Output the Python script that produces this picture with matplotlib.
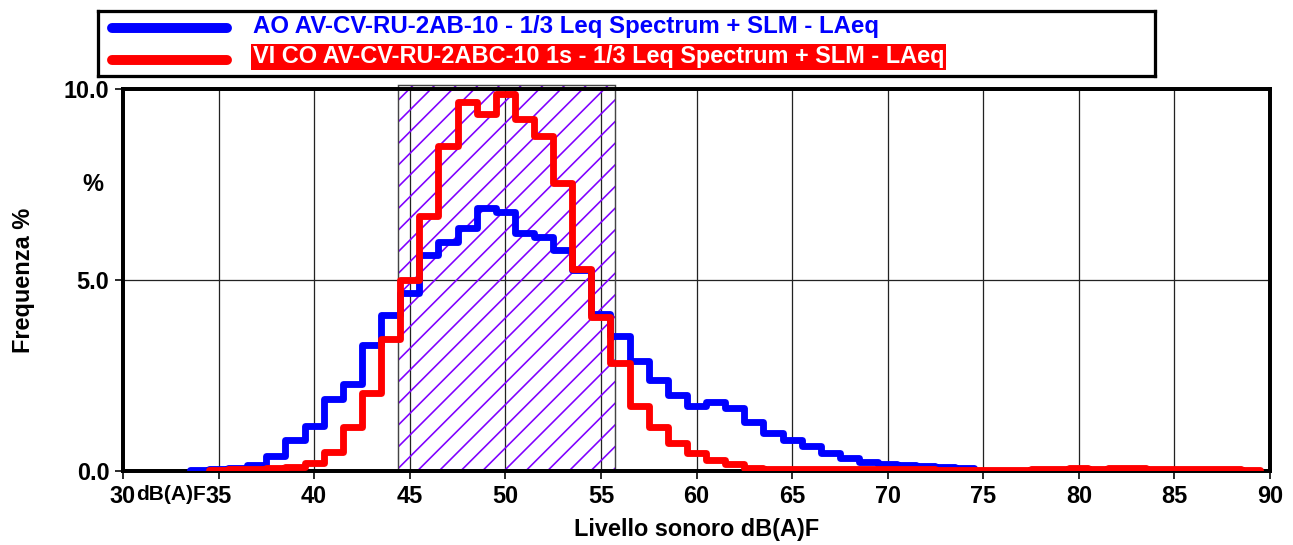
import matplotlib
matplotlib.use('Agg')
import matplotlib.pyplot as plt
import numpy as np
from matplotlib.patches import Rectangle

plt.rcParams['font.family'] = ['Liberation Sans', 'DejaVu Sans']
plt.rcParams['font.weight'] = 'bold'
plt.rcParams['hatch.linewidth'] = 0.9

# livelli (dB) - classi da 1 dB centrate sui valori interi
blue_start = 34
blue_vals = [0.02, 0.04, 0.09, 0.15, 0.38, 0.80, 1.18, 1.88, 2.28, 3.29,
             4.08, 4.66, 5.65, 6.00, 6.35, 6.89, 6.79, 6.24, 6.13, 5.78,
             5.26, 4.12, 3.54, 2.87, 2.37, 1.99, 1.69, 1.80, 1.64, 1.29,
             0.99, 0.81, 0.66, 0.48, 0.33, 0.23, 0.18, 0.16, 0.13, 0.11,
             0.09]
red_start = 35
red_vals = [0.03, 0.05, 0.06, 0.07, 0.11, 0.22, 0.51, 1.14, 2.04, 3.46,
            5.01, 6.68, 8.51, 9.65, 9.34, 9.87, 9.21, 8.76, 7.53, 5.30,
            4.03, 2.83, 1.69, 1.16, 0.72, 0.48, 0.29, 0.18, 0.09, 0.06,
            0.05, 0.05, 0.04, 0.04, 0.04, 0.05, 0.05, 0.04, 0.03, 0.02,
            0.02, 0.02, 0.03, 0.05, 0.06, 0.07, 0.06, 0.07, 0.07, 0.05,
            0.06, 0.05, 0.04, 0.04, 0.03]
band = (44.38, 55.72)  # intervallo evidenziato
band_top = 10.1

names = ['AO AV-CV-RU-2AB-10 - 1/3 Leq Spectrum + SLM - LAeq',
         'VI CO AV-CV-RU-2ABC-10 1s - 1/3 Leq Spectrum + SLM - LAeq']
xticks = [30, 35, 40, 45, 50, 55, 60, 65, 70, 75, 80, 85, 90]
yticks = [0.0, 5.0, 10.0]

DPI = 130
FS = 13
fig = plt.figure(figsize=(1293 / DPI, 545 / DPI), dpi=DPI)
ax = fig.add_axes([123 / 1293, 74 / 545, 1147 / 1293, 382 / 545])

for x in xticks[1:-1]:
    ax.axvline(x, color='#222222', lw=0.7, zorder=1)
ax.axhline(5.0, color='#222222', lw=0.7, zorder=1)

# banda tratteggiata
ax.add_patch(Rectangle((band[0], 0), band[1] - band[0], band_top, facecolor='none',
                       edgecolor='#8000ff', lw=0, hatch='//', zorder=2, clip_on=False))
ax.add_patch(Rectangle((band[0], 0), band[1] - band[0], band_top, facecolor='none',
                       edgecolor='#444444', lw=0.8, zorder=2, clip_on=False))

be = np.arange(len(blue_vals) + 1) + blue_start - 0.5
re_ = np.arange(len(red_vals) + 1) + red_start - 0.5
ax.stairs(blue_vals, be, baseline=None, color='#0000ff', lw=3.8,
          joinstyle='round', capstyle='round', zorder=3)
ax.stairs(red_vals, re_, baseline=None, color='#ff0000', lw=3.8,
          joinstyle='round', capstyle='round', zorder=4)

ax.set_xlim(30, 90)
ax.set_ylim(0, 10)
ax.set_xticks(xticks)
ax.set_yticks(yticks)
ax.set_yticklabels(['%.1f' % v for v in yticks])
ax.tick_params(direction='out', length=4.5, width=0.9, labelsize=FS, pad=3)
for s in ax.spines.values():
    s.set_linewidth(2.2)

ax.annotate('dB(A)F', xy=(30, 0), xycoords=('data', 'axes fraction'),
            xytext=(7.0, -7.5), textcoords='offset points', ha='left', va='top',
            fontsize=11.6, fontweight='bold')
ax.text(-0.017, 0.75, '%', transform=ax.transAxes, ha='right', va='center',
        fontsize=FS, fontweight='bold')
ax.set_xlabel('Livello sonoro dB(A)F', fontsize=FS, fontweight='bold', labelpad=6)
ax.set_ylabel('Frequenza %', fontsize=FS, fontweight='bold', labelpad=16)

# legenda disegnata a mano
lg = fig.add_axes([98 / 1293, 469 / 545, 1057 / 1293, 65 / 545])
lg.set_xlim(0, 1057)
lg.set_ylim(65, 0)
lg.set_xticks([])
lg.set_yticks([])
for s in lg.spines.values():
    s.set_linewidth(1.8)
lg.plot([14, 129], [17, 17], color='#0000ff', lw=5.5, solid_capstyle='round')
lg.plot([14, 129], [49, 49], color='#ff0000', lw=5.5, solid_capstyle='round')
lg.text(155, 15, names[0], color='#0000ff', fontsize=13.3, fontweight='bold',
        ha='left', va='center')
lg.text(155, 46, names[1], color='white', fontsize=13.0, fontweight='bold',
        ha='left', va='center',
        bbox=dict(boxstyle='square,pad=0.08', facecolor='#ff0000', edgecolor='none'))

fig.savefig('out.png', dpi=DPI)
